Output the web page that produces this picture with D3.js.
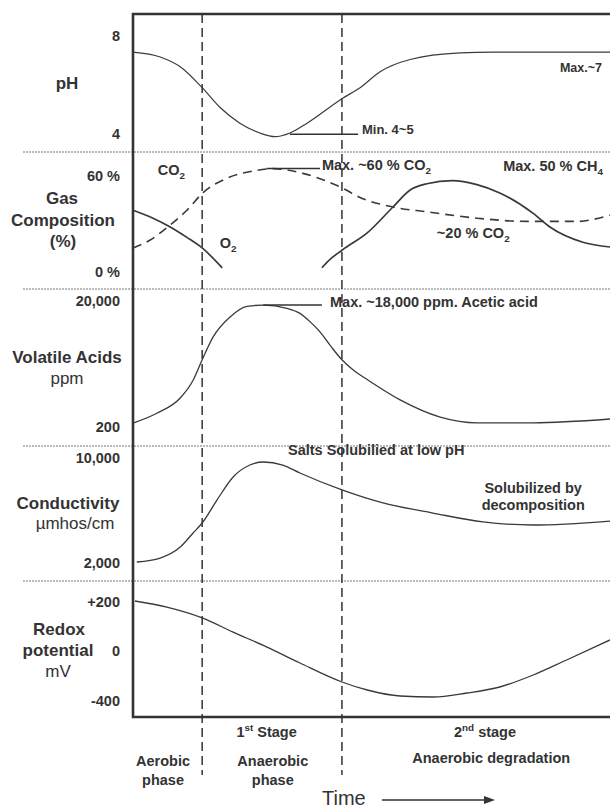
<!DOCTYPE html>
<html lang="en">
<head>
<meta charset="UTF-8">
<title>Landfill decomposition phases</title>
<style>
  body { margin: 0; background: #fff; }
  svg text { font-family: "Liberation Sans", Arial, sans-serif; fill: #333; }
</style>
</head>
<body>
<script src="https://d3js.org/d3.v7.min.js"></script>
<script>
// time runs 0..100 across the frame
var phaseBounds = [14.5, 43.8];

// pH
var phTime  = [0, 5.7, 9.9, 14.5, 18.2, 22.4, 26.6, 29.8, 32.9, 36.5, 43.8, 47.6, 51.8, 58.1, 68.6, 75.5, 100];
var phValue = [7.3, 7.1, 6.7, 5.85, 5.05, 4.4, 4.0, 3.85, 4.0, 4.4, 5.4, 5.85, 6.5, 7.0, 7.27, 7.3, 7.3];
var phTicks = [4, 8];
var phTickLabels = ["4", "8"];

// gas composition (%)
var co2Time  = [0, 3.6, 7.8, 11.3, 14.7, 19.7, 25.2, 29.4, 35.6, 43.8, 47.6, 54.5, 61.6, 72.1, 82.6, 93.1, 100];
var co2Value = [14.4, 19.4, 28.8, 38, 49, 58, 62.5, 64, 61, 52, 46, 40, 37, 33, 31, 31, 35];
var o2Time   = [0, 4.2, 7.8, 11.3, 14.5, 18.7];
var o2Value  = [38, 33, 27.5, 21, 14.4, 2];
var ch4Time  = [39.6, 40.7, 43.8, 49.1, 54.5, 58.1, 61.6, 67.0, 72.1, 76.9, 83.9, 87.4, 94.3, 100];
var ch4Value = [2, 5.6, 13, 23.8, 40, 50.6, 54.5, 56.5, 54, 48.8, 36, 27.5, 18, 15];
var gasTicks = [0, 60];
var gasTickLabels = ["0 %", "60 %"];

// volatile acids (ppm)
var vaTime  = [0, 5.0, 9.9, 12.6, 14.5, 16.8, 20.3, 23.9, 27.3, 32.3, 35.0, 37.1, 39.2, 41.5, 43.8, 46.5, 49.1, 56.0, 64.4, 72.1, 83.9, 100];
var vaValue = [650, 2200, 4600, 7400, 10600, 14200, 17300, 19000, 19200, 18700, 17900, 16600, 15000, 12700, 10600, 8800, 7500, 4300, 1600, 700, 700, 1300];
var vaTicks = [200, 20000];
var vaTickLabels = ["200", "20,000"];

// conductivity (umhos/cm)
var condTime  = [0.8, 5.7, 9.9, 12.6, 14.5, 17.6, 21.0, 24.5, 27.3, 31.4, 35.0, 43.8, 52.4, 62.9, 73.4, 83.9, 100];
var condValue = [2000, 2300, 3140, 4210, 4970, 6720, 8480, 9390, 9620, 9390, 8780, 7490, 6500, 5730, 5050, 4820, 5120];
var condTicks = [2000, 10000];
var condTickLabels = ["2,000", "10,000"];

// redox potential (mV)
var redoxTime  = [0.4, 7.1, 14.5, 21.0, 28.1, 35.0, 43.8, 49.1, 56.0, 62.9, 70.0, 76.9, 83.9, 90.9, 100];
var redoxValue = [200, 175, 131, 73, 12, -104, -256, -320, -368, -376, -344, -296, -200, -80, 41];
var redoxTicks = [-400, 0, 200];
var redoxTickLabels = ["-400", "0", "+200"];

var W = 610, H = 810;
var ink = "#333";

var svg = d3.select("body").append("svg")
    .attr("width", W)
    .attr("height", H);

var x = d3.scaleLinear().domain([0, 100]).range([133, 610]);

var yPh    = d3.scaleLinear().domain([4, 8]).range([133, 35]);
var yGas   = d3.scaleLinear().domain([0, 60]).range([271, 175]);
var yVa    = d3.scaleLinear().domain([200, 20000]).range([426, 300]);
var yCond  = d3.scaleLinear().domain([2000, 10000]).range([562, 457]);
var yRedox = d3.scaleLinear().domain([-400, 0, 200]).range([700, 650, 601]);

// dotted panel separators
[152, 289, 446, 581].forEach(function (y) {
    svg.append("line")
        .attr("x1", 23).attr("x2", W)
        .attr("y1", y).attr("y2", y)
        .attr("stroke", "#777")
        .attr("stroke-width", 1)
        .attr("stroke-dasharray", "2,1");
});

// phase boundaries
phaseBounds.forEach(function (t) {
    svg.append("line")
        .attr("x1", x(t)).attr("x2", x(t))
        .attr("y1", 14).attr("y2", 775)
        .attr("stroke", ink)
        .attr("stroke-width", 1.5)
        .attr("stroke-dasharray", "9,5");
});

// frame (right side runs off the page)
svg.append("path")
    .attr("d", "M" + (W + 10) + ",14H133V717H" + (W + 10))
    .attr("fill", "none")
    .attr("stroke", ink)
    .attr("stroke-width", 2.6);

function drawCurve(times, values, yScale, width, dash) {
    svg.append("path")
        .datum(d3.zip(times, values))
        .attr("fill", "none")
        .attr("stroke", "#3a3a3a")
        .attr("stroke-width", width)
        .attr("stroke-dasharray", dash || null)
        .attr("d", d3.line()
            .x(function (d) { return x(d[0]); })
            .y(function (d) { return yScale(d[1]); })
            .curve(d3.curveMonotoneX));
}

drawCurve(phTime, phValue, yPh, 1.2);
drawCurve(co2Time, co2Value, yGas, 1.6, "9,6");
drawCurve(o2Time, o2Value, yGas, 1.7);
drawCurve(ch4Time, ch4Value, yGas, 1.7);
drawCurve(vaTime, vaValue, yVa, 1.3);
drawCurve(condTime, condValue, yCond, 1.3);
drawCurve(redoxTime, redoxValue, yRedox, 1.3);

function drawAxis(scale, ticks, labels) {
    var g = svg.append("g")
        .attr("transform", "translate(133,0)")
        .call(d3.axisLeft(scale)
            .tickValues(ticks)
            .tickSize(0)
            .tickPadding(13)
            .tickFormat(function (d, i) { return labels[i]; }));
    g.select(".domain").remove();
    g.selectAll("text")
        .attr("font-family", "Liberation Sans, Arial, sans-serif")
        .attr("font-size", 14.5)
        .attr("font-weight", "bold")
        .attr("fill", ink)
        .attr("dy", "0.35em");
}
drawAxis(yPh, phTicks, phTickLabels);
drawAxis(yGas, gasTicks, gasTickLabels);
drawAxis(yVa, vaTicks, vaTickLabels);
drawAxis(yCond, condTicks, condTickLabels);
drawAxis(yRedox, redoxTicks, redoxTickLabels);

// panel titles on the left
var titles = [
    ["pH", 67, 83, true],
    ["Gas", 62, 198, true],
    ["Composition", 63, 220, true],
    ["(%)", 63, 241, true],
    ["Volatile Acids", 67, 357, true],
    ["ppm", 67, 378, false],
    ["Conductivity", 68, 503, true],
    ["\u00b5mhos/cm", 75, 523, false],
    ["Redox", 59, 629, true],
    ["potential", 58, 650, true],
    ["mV", 58, 671, false]
];
titles.forEach(function (d) {
    svg.append("text")
        .attr("x", d[1]).attr("y", d[2])
        .attr("dy", "0.35em")
        .attr("text-anchor", "middle")
        .attr("font-size", 17)
        .attr("font-weight", d[3] ? "bold" : "normal")
        .text(d[0]);
});

// annotation helper: parts = [[text, "sub"|"sup"|null], ...]
function label(px, py, parts, size, anchor) {
    var t = svg.append("text")
        .attr("x", px).attr("y", py)
        .attr("dy", "0.35em")
        .attr("text-anchor", anchor || "start")
        .attr("font-size", size)
        .attr("font-weight", "bold");
    var shift = 0;
    parts.forEach(function (p) {
        var target = p[1] === "sub" ? 4 : p[1] === "sup" ? -6 : 0;
        t.append("tspan")
            .attr("dy", target - shift)
            .attr("font-size", p[1] ? size * 0.68 : size)
            .text(p[0]);
        shift = target;
    });
    return t;
}

function pointer(t0, t1, v, yScale) {
    svg.append("line")
        .attr("x1", x(t0)).attr("x2", x(t1))
        .attr("y1", yScale(v)).attr("y2", yScale(v))
        .attr("stroke", ink)
        .attr("stroke-width", 1.5);
}

// pH notes
pointer(32.9, 47.2, 3.95, yPh);
label(x(48.0), yPh(3.95), [["Min. 4~5"]], 13);
label(x(89.5), yPh(6.49), [["Max.~7"]], 12.5);

// gas notes
pointer(28, 39.2, 64, yGas);
label(x(39.6), yGas(63.1), [["Max. ~60 % CO"], ["2", "sub"]], 14.5);
label(x(5.2), yGas(60), [["CO"], ["2", "sub"]], 14.5);
label(x(18.2), yGas(14.4), [["O"], ["2", "sub"]], 14.5);
label(x(77.6), yGas(62.5), [["Max. 50 % CH"], ["4", "sub"]], 14.5);
label(x(63.7), yGas(20.6), [["~20 % CO"], ["2", "sub"]], 14.5);

// volatile acid note
pointer(27.3, 39.6, 19200, yVa);
label(x(41.3), yVa(18900), [["Max. ~18,000 ppm. Acetic acid"]], 14.5);

// conductivity notes
label(x(32.5), yCond(10150), [["Salts Solubilied at low pH"]], 14.5);
label(x(83.9), yCond(7257), [["Solubilized by"]], 14.5, "middle");
label(x(83.9), yCond(5962), [["decomposition"]], 14.5, "middle");

// phase labels under the frame
label(x(28), 737, [["1"], ["st", "sup"], [" Stage"]], 14.5, "middle");
label(x(73.8), 737, [["2"], ["nd", "sup"], [" stage"]], 14.5, "middle");
label(x(6.3), 766, [["Aerobic"]], 14.5, "middle");
label(x(6.3), 785, [["phase"]], 14.5, "middle");
label(x(29.3), 766, [["Anaerobic"]], 14.5, "middle");
label(x(29.3), 785, [["phase"]], 14.5, "middle");
label(x(75.1), 763, [["Anaerobic degradation"]], 14.5, "middle");

// time arrow
svg.append("text")
    .attr("x", 322).attr("y", 805)
    .attr("font-size", 20)
    .text("Time");
svg.append("line")
    .attr("x1", 382).attr("x2", 486)
    .attr("y1", 800).attr("y2", 800)
    .attr("stroke", ink)
    .attr("stroke-width", 1.6);
svg.append("path")
    .attr("d", "M484,796L495,800L484,804Z")
    .attr("fill", ink);
</script>
</body>
</html>
